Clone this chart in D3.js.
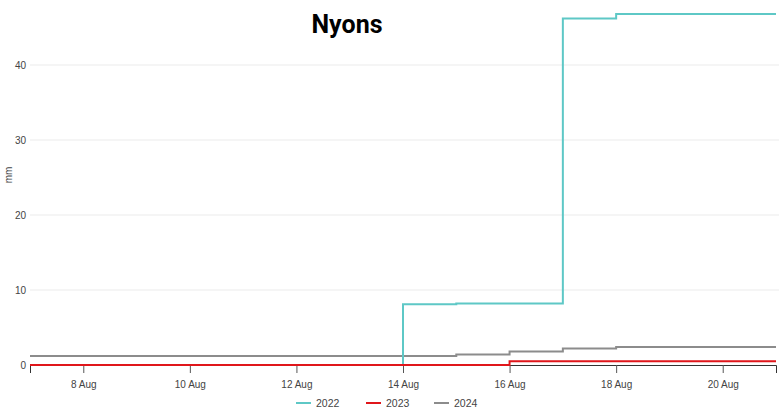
<!DOCTYPE html>
<html><head><meta charset="utf-8">
<script src="https://cdn.jsdelivr.net/npm/d3@7"></script>
<style>body{margin:0;background:#fff;font-family:"Liberation Sans",Arial,sans-serif;}</style>
</head><body>
<svg id="c" width="779" height="409"></svg>
<script>
const dates = ["2024-08-07","2024-08-08","2024-08-09","2024-08-10","2024-08-11","2024-08-12","2024-08-13","2024-08-14","2024-08-15","2024-08-16","2024-08-17","2024-08-18","2024-08-19","2024-08-20","2024-08-21"];
const s2022 = [0,0,0,0,0,0,0,8.1,8.2,8.2,46.2,46.8,46.8,46.8,46.8];
const s2023 = [0,0,0,0,0,0,0,0,0,0.5,0.5,0.5,0.5,0.5,0.5];
const s2024 = [1.2,1.2,1.2,1.2,1.2,1.2,1.2,1.2,1.4,1.8,2.2,2.4,2.4,2.4,2.4];
const seriesNames = ["2022","2023","2024"];
const seriesColors = ["#5ec8c6","#e0161b","#8c8c8c"];
const yTicks = [0,10,20,30,40];
const xTicks = ["2024-08-08","2024-08-10","2024-08-12","2024-08-14","2024-08-16","2024-08-18","2024-08-20"];
const title = "Nyons";
const yLabel = "mm";

const svg = d3.select("#c");
const parse = d3.timeParse("%Y-%m-%d");
const X = dates.map(parse);
const x = d3.scaleTime().domain([X[0], X[X.length-1]]).range([30, 776]);
const y = d3.scaleLinear().domain([0, 40]).range([365, 65]);

// grid
svg.append("g").selectAll("line").data(yTicks.filter(d=>d>0)).join("line")
  .attr("x1",30).attr("x2",779).attr("y1",d=>y(d)).attr("y2",d=>y(d))
  .attr("stroke","#ebebeb").attr("stroke-width",1);

// y axis labels
svg.append("g").selectAll("text").data(yTicks).join("text")
  .attr("x",26).attr("y",d=>y(d)).attr("dy","0.35em").attr("text-anchor","end")
  .attr("font-size",10).attr("fill","#444").text(d=>d);

// x axis
const xa = svg.append("g").attr("transform","translate(0,365)")
  .call(d3.axisBottom(x).tickValues(xTicks.map(parse)).tickFormat(d3.timeFormat("%-d Aug")).tickSizeOuter(0).tickSize(8).tickPadding(8));
xa.select(".domain").attr("stroke","#333");
xa.selectAll(".tick line").attr("stroke","#555");
xa.selectAll(".tick text").attr("font-size",10).attr("fill","#444").attr("font-family","'Liberation Sans',Arial,sans-serif");

const line = d3.line().x((d,i)=>x(X[i])).y(d=>y(d)).curve(d3.curveStepAfter);
const all = [s2022, s2023, s2024];
[2,0,1].forEach(k=>{
  svg.append("path").attr("d", line(all[k])).attr("fill","none")
    .attr("stroke", seriesColors[k]).attr("stroke-width", 2);
});

// title
svg.append("text").attr("x",347).attr("y",33).attr("text-anchor","middle")
  .attr("font-family","Roboto,sans-serif")
  .attr("font-size",25).attr("font-weight","bold").attr("fill","#000").text(title);
// y label
svg.append("text").attr("transform","translate(12,175) rotate(-90)").attr("text-anchor","middle")
  .attr("font-size",10).attr("fill","#444").text(yLabel);

// legend
const lx = [296, 366, 434];
const lg = svg.append("g");
seriesNames.forEach((n,i)=>{
  lg.append("line").attr("x1",lx[i]).attr("x2",lx[i]+15).attr("y1",403).attr("y2",403)
    .attr("stroke",seriesColors[i]).attr("stroke-width",2);
  lg.append("text").attr("x",lx[i]+20).attr("y",403).attr("dy","0.35em")
    .attr("font-size",10.5).attr("fill","#444").text(n);
});
</script>
</body></html>
